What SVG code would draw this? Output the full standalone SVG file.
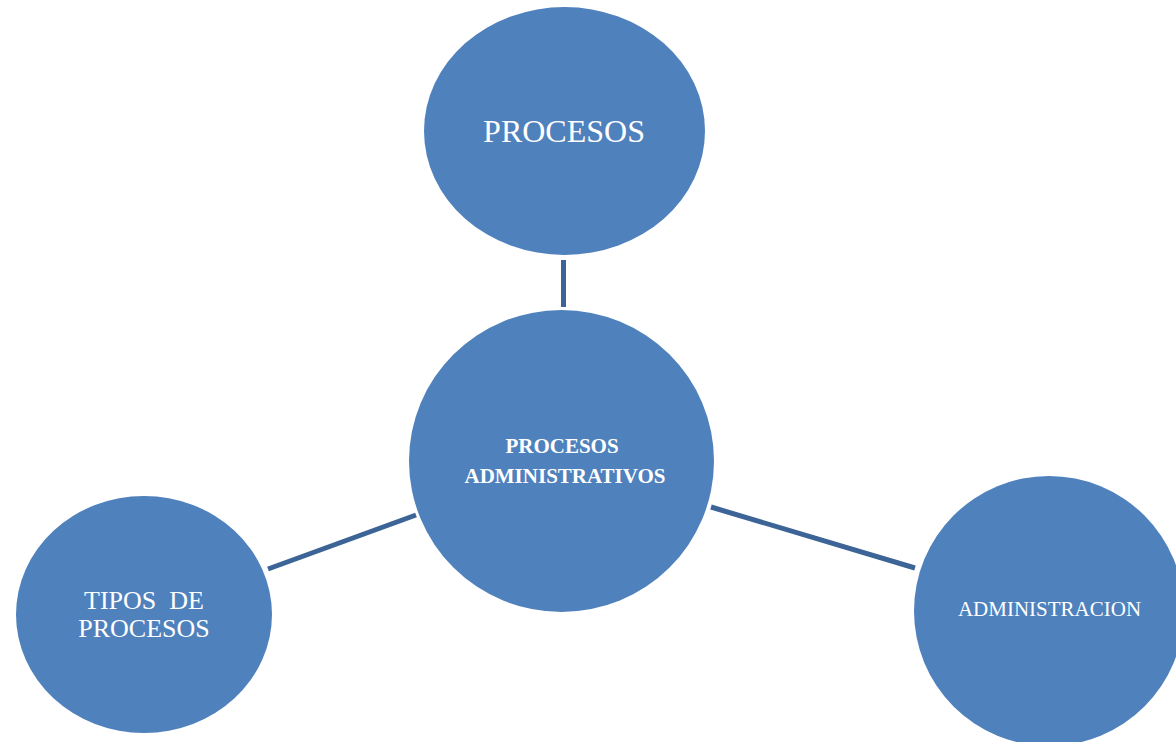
<svg xmlns="http://www.w3.org/2000/svg" width="1176" height="742" viewBox="0 0 1176 742">
  <style>
    .node { fill: #4F81BD; }
    .edge { stroke: #3C6497; stroke-width: 5; fill: none; }
    .lbl { fill: #FFFFFF; font-family: "Liberation Serif", "Times New Roman", serif; text-anchor: middle; white-space: pre; }
    .bold { font-weight: bold; }
  </style>
  <rect width="1176" height="742" fill="#FFFFFF"/>

  <g id="connectors">
    <line class="edge" x1="563.5" y1="260" x2="563.5" y2="307"/>
    <line class="edge" x1="268" y1="569" x2="416" y2="515"/>
    <line class="edge" x1="711" y1="507" x2="915" y2="568"/>
  </g>

  <g id="node-procesos">
    <ellipse class="node" cx="564.5" cy="131" rx="140.5" ry="124"/>
    <text class="lbl" x="564" y="142" font-size="32">PROCESOS</text>
  </g>

  <g id="node-procesos-administrativos">
    <ellipse class="node" cx="561.5" cy="461" rx="152.5" ry="151"/>
    <text class="lbl bold" x="562" y="453" font-size="21">PROCESOS</text>
    <text class="lbl bold" x="565" y="483" font-size="21">ADMINISTRATIVOS</text>
  </g>

  <g id="node-tipos-de-procesos">
    <ellipse class="node" cx="144" cy="614.5" rx="128" ry="118.5"/>
    <text class="lbl" x="144" y="609" font-size="26">TIPOS  DE</text>
    <text class="lbl" x="144" y="637" font-size="26">PROCESOS</text>
  </g>

  <g id="node-administracion">
    <ellipse class="node" cx="1049" cy="611" rx="135" ry="135"/>
    <text class="lbl" x="1049.5" y="616" font-size="21">ADMINISTRACION</text>
  </g>
</svg>
